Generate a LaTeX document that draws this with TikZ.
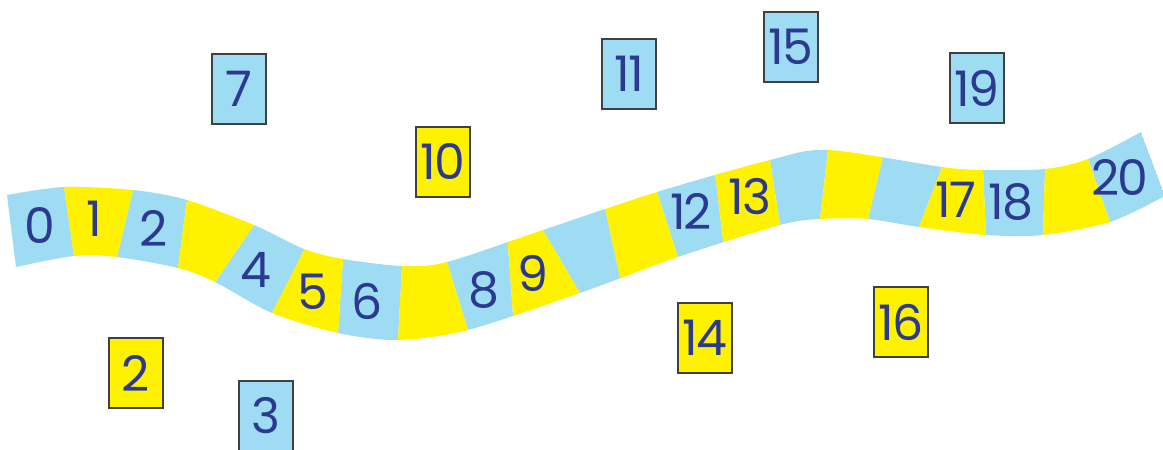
\documentclass[tikz,border=0pt]{standalone}
\usepackage{fontspec}
\setmainfont{Poppins}[LetterSpace=-4]
\usepackage{xcolor}
\definecolor{lineBlue}{HTML}{9EDCF4}
\definecolor{lineYellow}{HTML}{FFF200}
\definecolor{numInk}{HTML}{2B3A8E}
\definecolor{cardEdge}{HTML}{404040}
\usepackage{tikz}
\usetikzlibrary{calc}

\begin{document}
\begin{tikzpicture}[x=1pt, y=-1pt,
  num/.style={text=numInk, inner sep=0pt, font=\fontsize{49}{49}\selectfont},
  card/.style={num, draw=cardEdge, line width=1.2pt, minimum width=54pt, minimum height=70pt}]
  \useasboundingbox (0,0) rectangle (1163,450);
  % ---------- corners of the strip (top and bottom of each cut) ----------
  \foreach \i/\tx/\ty/\bx/\by in {0/7/195/16/267, 1/64/187/74/256, 2/133/190/117/257,
      3/187/200/178/268, 4/254/225/215/282, 5/304/250/272/313, 6/343/259/338/333,
      7/402/266/398/340, 8/447/262/468/330, 9/508/245/513/315, 10/543/230/580/293,
      11/605/208/620/277, 12/657/192/678/257, 13/715/172/723/240, 14/770/160/780/225,
      15/828/150/820/219, 16/884/152/868/219, 17/942/167/919/227, 18/983/170/986/235,
      19/1045/169/1043/235, 20/1088/159/1110/222, 21/1141/132/1165/196}{
    \coordinate (t\i) at (\tx,\ty);
    \coordinate (b\i) at (\bx,\by);
  }
  % ---------- the wavy strip ----------
  \begin{scope}
    \clip plot[smooth] coordinates {(7,195) (64,187) (133,190) (187,200) (254,225) (304,249)
        (343,259) (402,266) (447,262) (543,230) (657,192) (770,160) (828,150)
        (942,167) (983,170) (1045,169) (1088,159) (1141,132)}
      -- plot[smooth] coordinates {(1165,196) (1110,222) (1043,235) (986,235) (919,227)
        (868,219) (820,219) (780,225) (678,257) (580,293) (468,330) (398,340) (338,333)
        (272,313) (215,282) (178,268) (117,257) (74,256) (16,267)} -- cycle;
    \foreach \i [evaluate=\i as \j using int(\i+1)] in {0,2,...,20}
      \fill[lineBlue] ($(t\i)!-0.6!(b\i)$) -- ($(t\j)!-0.6!(b\j)$)
        -- ($(b\j)!-0.6!(t\j)$) -- ($(b\i)!-0.6!(t\i)$) -- cycle;
    \foreach \i [evaluate=\i as \j using int(\i+1)] in {1,3,...,19}
      \fill[lineYellow] ($(t\i)!-0.6!(b\i)$) -- ($(t\j)!-0.6!(b\j)$)
        -- ($(b\j)!-0.6!(t\j)$) -- ($(b\i)!-0.6!(t\i)$) -- cycle;
  \end{scope}
  % numbers printed on the strip
  \foreach \n/\x/\y in {0/40/226, 1/94/219, 2/154/228, 4/256/270, 5/313/292, 6/367/301,
      8/484/290, 9/533/273, 12/691/211, 13/750/197, 17/956/200, 18/1011/202, 20/1120/177}
    \node[num] (n\n) at (\x,\y) {\n};
  % ---------- loose cards ----------
  \node[card, fill=lineYellow] (c2) at (136,373) {2};
  \node[card, fill=lineBlue] (c3) at (266,416) {3};
  \node[card, fill=lineBlue] (c7) at (239,89) {7};
  \node[card, fill=lineYellow] (c10) at (443,162) {10};
  \node[card, fill=lineBlue] (c11) at (629,74) {11};
  \node[card, fill=lineYellow] (c14) at (705,338) {14};
  \node[card, fill=lineBlue] (c15) at (791,47) {15};
  \node[card, fill=lineYellow] (c16) at (901,322) {16};
  \node[card, fill=lineBlue] (c19) at (977,88) {19};
\end{tikzpicture}
\end{document}
